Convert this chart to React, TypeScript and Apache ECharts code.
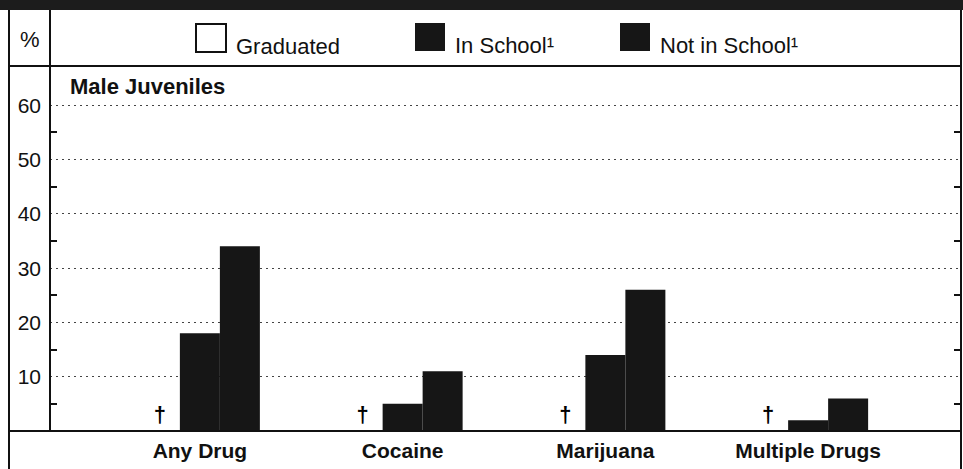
import React, { useEffect, useRef } from "react";
import * as echarts from "echarts";

const categories = ["Any Drug", "Cocaine", "Marijuana", "Multiple Drugs"];
// Graduated: not available (shown as †)
const graduated: (number | null)[] = [null, null, null, null];
const inSchool = [18, 5, 14, 2];
const notInSchool = [34, 11, 26, 6];
const seriesNames = ["Graduated", "In School¹", "Not in School¹"];
const panelTitle = "Male Juveniles";
const unitLabel = "%";

const FONT = "'Liberation Sans', Arial, Helvetica, sans-serif";
const INK = "#111";

export default function App() {
  const ref = useRef<HTMLDivElement>(null);

  useEffect(() => {
    const chart = echarts.init(ref.current!, null, { renderer: "svg" });

    const legendBase = {
      top: 23,
      itemWidth: 30,
      itemHeight: 28,
      icon: "rect",
      padding: 0,
      selectedMode: false,
      formatter: "{t|{name}}",
      textStyle: {
        fontSize: 22,
        color: INK,
        fontFamily: FONT,
        rich: {
          t: {
            fontSize: 22,
            color: INK,
            fontFamily: FONT,
            padding: [16, 0, 0, 5],
          },
        },
      },
    };

    const line = (x1: number, y1: number, x2: number, y2: number) => ({
      type: "line",
      z: 50,
      shape: { x1, y1, x2, y2 },
      style: { stroke: INK, lineWidth: 2 },
    });

    chart.setOption({
      animation: false,
      backgroundColor: "#fff",
      textStyle: { fontFamily: FONT },
      grid: [
        { left: 50, right: 2, top: 105, bottom: 38 },
        { left: 98.5, right: 53.5, top: 105, bottom: 38 },
      ],
      legend: [
        { ...legendBase, left: 195, data: [seriesNames[0]] },
        { ...legendBase, left: 415, data: [seriesNames[1]] },
        { ...legendBase, left: 620, data: [seriesNames[2]] },
      ],
      xAxis: [
        { gridIndex: 0, type: "value", show: false, min: 0, max: 1 },
        {
          gridIndex: 1,
          type: "category",
          data: categories,
          axisLine: { show: false },
          axisTick: { show: false },
          axisLabel: {
            fontSize: 21,
            fontWeight: "bold",
            color: INK,
            margin: 9,
            fontFamily: FONT,
          },
        },
      ],
      yAxis: [
        {
          gridIndex: 0,
          type: "value",
          position: "left",
          min: 0,
          max: 60,
          interval: 10,
          axisLine: { show: true, lineStyle: { color: INK, width: 2 } },
          axisTick: { show: false, inside: true },
          minorTick: {
            show: true,
            splitNumber: 2,
            length: 7,
            lineStyle: { color: INK, width: 2 },
          },
          axisLabel: {
            showMinLabel: false,
            fontSize: 21,
            color: INK,
            margin: 9,
            fontFamily: FONT,
          },
          splitLine: {
            show: true,
            lineStyle: { type: [2, 4], color: "#444", width: 1.2 },
          },
        },
        {
          gridIndex: 0,
          type: "value",
          position: "right",
          min: 0,
          max: 60,
          interval: 10,
          axisLine: { show: true, lineStyle: { color: INK, width: 2 } },
          axisTick: { show: false, inside: true },
          minorTick: {
            show: true,
            splitNumber: 2,
            length: 7,
            lineStyle: { color: INK, width: 2 },
          },
          axisLabel: { show: false },
          splitLine: { show: false },
        },
        { gridIndex: 1, type: "value", min: 0, max: 60, show: false },
      ],
      series: [
        {
          name: seriesNames[0],
          type: "bar",
          xAxisIndex: 1,
          yAxisIndex: 2,
          barWidth: 40,
          barGap: "0%",
          data: graduated.map((v) => ({
            value: v ?? 0,
            label: { show: v == null, formatter: "†" },
          })),
          itemStyle: { color: "#fff", borderColor: INK, borderWidth: 1.5 },
          label: {
            position: "top",
            distance: 5,
            fontSize: 22,
            fontWeight: "bold",
            color: "#000",
            fontFamily: FONT,
          },
        },
        {
          name: seriesNames[1],
          type: "bar",
          xAxisIndex: 1,
          yAxisIndex: 2,
          barWidth: 40,
          barGap: "0%",
          data: inSchool,
          itemStyle: { color: "#161616" },
        },
        {
          name: seriesNames[2],
          type: "bar",
          xAxisIndex: 1,
          yAxisIndex: 2,
          barWidth: 40,
          barGap: "0%",
          data: notInSchool,
          itemStyle: { color: "#161616" },
        },
      ],
      graphic: [
        {
          type: "rect",
          z: 50,
          shape: { x: 0, y: 0, width: 963, height: 10 },
          style: { fill: "#1c1c1c" },
        },
        line(9, 10, 9, 469),
        line(50, 10, 50, 106),
        line(961, 10, 961, 469),
        line(9, 66, 961, 66),
        line(9, 431, 961, 431),
        {
          type: "text",
          z: 50,
          x: 20,
          y: 39,
          style: {
            text: unitLabel,
            fontSize: 22,
            fontFamily: FONT,
            fill: INK,
            verticalAlign: "middle",
          },
        },
        {
          type: "text",
          z: 50,
          x: 70,
          y: 86,
          style: {
            text: panelTitle,
            fontSize: 22,
            fontWeight: "bold",
            fontFamily: FONT,
            fill: INK,
            verticalAlign: "middle",
          },
        },
      ],
    });

    return () => chart.dispose();
  }, []);

  return (
    <div
      ref={ref}
      style={{ position: "fixed", left: 0, top: 0, width: 963, height: 469 }}
    />
  );
}
